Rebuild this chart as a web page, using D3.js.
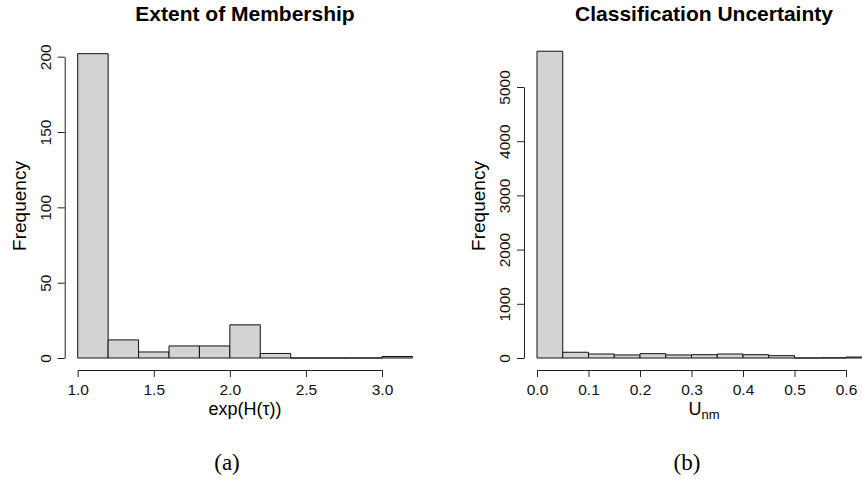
<!DOCTYPE html>
<html>
<head>
<meta charset="utf-8">
<script src="https://cdn.jsdelivr.net/npm/d3@7"></script>
<style>
  body { margin: 0; background: #fff; }
  svg { display: block; font-family: "Liberation Sans", Arial, sans-serif; }
</style>
</head>
<body>
<div id="chart"></div>
<script>
// histogram (a): extent of membership
var memBreaks = [1.0, 1.2, 1.4, 1.6, 1.8, 2.0, 2.2, 2.4, 2.6, 2.8, 3.0, 3.2];
var memCounts = [202, 12, 4, 8, 8, 22, 3, 0, 0, 0, 1];
var memXTicks = [1.0, 1.5, 2.0, 2.5, 3.0];
var memYTicks = [0, 50, 100, 150, 200];

// histogram (b): classification uncertainty
var uncBreaks = [0, 0.05, 0.1, 0.15, 0.2, 0.25, 0.3, 0.35, 0.4, 0.45, 0.5, 0.55, 0.6, 0.65];
var uncCounts = [5660, 106, 74, 56, 80, 56, 61, 74, 61, 43, 0, 3, 18];
var uncXTicks = [0, 0.1, 0.2, 0.3, 0.4, 0.5, 0.6];
var uncYTicks = [0, 1000, 2000, 3000, 4000, 5000];

var svg = d3.select("#chart").append("svg")
    .attr("width", 862)
    .attr("height", 480);

function drawHist(opt) {
    var x = d3.scaleLinear().domain(opt.xDomain).range(opt.xRange);
    var y = d3.scaleLinear().domain(opt.yDomain).range([358, opt.yTop]);

    var bins = opt.counts.map(function (c, i) {
        return { x0: opt.breaks[i], x1: opt.breaks[i + 1], n: c };
    });

    // bars as paths so zero-height bins still show their outline
    svg.append("g").selectAll("path")
        .data(bins)
        .enter().append("path")
        .attr("fill", "#d3d3d3")
        .attr("stroke", "#111")
        .attr("stroke-width", 1)
        .attr("d", function (d) {
            var p = d3.path();
            p.rect(x(d.x0), y(d.n), x(d.x1) - x(d.x0), y(0) - y(d.n));
            return p.toString();
        });

    // x axis
    var gx = svg.append("g")
        .attr("transform", "translate(0,370)")
        .call(d3.axisBottom(x).tickValues(opt.xTicks).tickSize(7).tickSizeOuter(0)
            .tickFormat(d3.format(".1f")));
    gx.selectAll("text")
        .attr("y", 24.5).attr("dy", 0)
        .attr("font-size", 15.5).attr("fill", "#111");

    // y axis
    var gy = svg.append("g")
        .attr("transform", "translate(" + opt.yAxisX + ",0)")
        .call(d3.axisLeft(y).tickValues(opt.yTicks).tickSize(7).tickSizeOuter(0)
            .tickFormat(d3.format("d")));
    gy.selectAll("text")
        .attr("transform", "rotate(-90)")
        .attr("x", 0).attr("y", -14).attr("dy", 0)
        .attr("text-anchor", "middle")
        .attr("font-size", 15.5).attr("fill", "#111");

    svg.selectAll(".domain, .tick line").attr("stroke", "#222");

    // titles
    svg.append("text")
        .attr("x", opt.cx).attr("y", 21)
        .attr("text-anchor", "middle")
        .attr("font-weight", "bold").attr("font-size", 21)
        .text(opt.title);

    svg.append("text")
        .attr("transform", "translate(" + opt.yLabX + ",206) rotate(-90)")
        .attr("text-anchor", "middle")
        .attr("font-size", 19)
        .text("Frequency");

    var xl = svg.append("text")
        .attr("x", opt.cx).attr("y", 415)
        .attr("text-anchor", "middle")
        .attr("font-size", 18);
    opt.xLabel(xl);

    svg.append("text")
        .attr("x", opt.capX).attr("y", 470)
        .attr("text-anchor", "middle")
        .attr("font-family", "'Liberation Serif', 'DejaVu Serif', serif")
        .attr("font-size", 23)
        .text(opt.caption);
}

drawHist({
    breaks: memBreaks, counts: memCounts,
    xDomain: [1, 3], xRange: [77.7, 382],
    yDomain: [0, 200], yTop: 56.7,
    xTicks: memXTicks, yTicks: memYTicks,
    yAxisX: 64.7, yLabX: 26, cx: 245, capX: 227,
    title: "Extent of Membership", caption: "(a)",
    xLabel: function (t) { t.text("exp(H(\u03c4))"); }
});

drawHist({
    breaks: uncBreaks, counts: uncCounts,
    xDomain: [0, 0.6], xRange: [537, 846],
    yDomain: [0, 5000], yTop: 87,
    xTicks: uncXTicks, yTicks: uncYTicks,
    yAxisX: 524, yLabX: 485, cx: 704, capX: 687,
    title: "Classification Uncertainty", caption: "(b)",
    xLabel: function (t) {
        t.append("tspan").text("U");
        t.append("tspan").attr("font-size", 13).attr("dy", 4).text("nm");
    }
});
</script>
</body>
</html>
